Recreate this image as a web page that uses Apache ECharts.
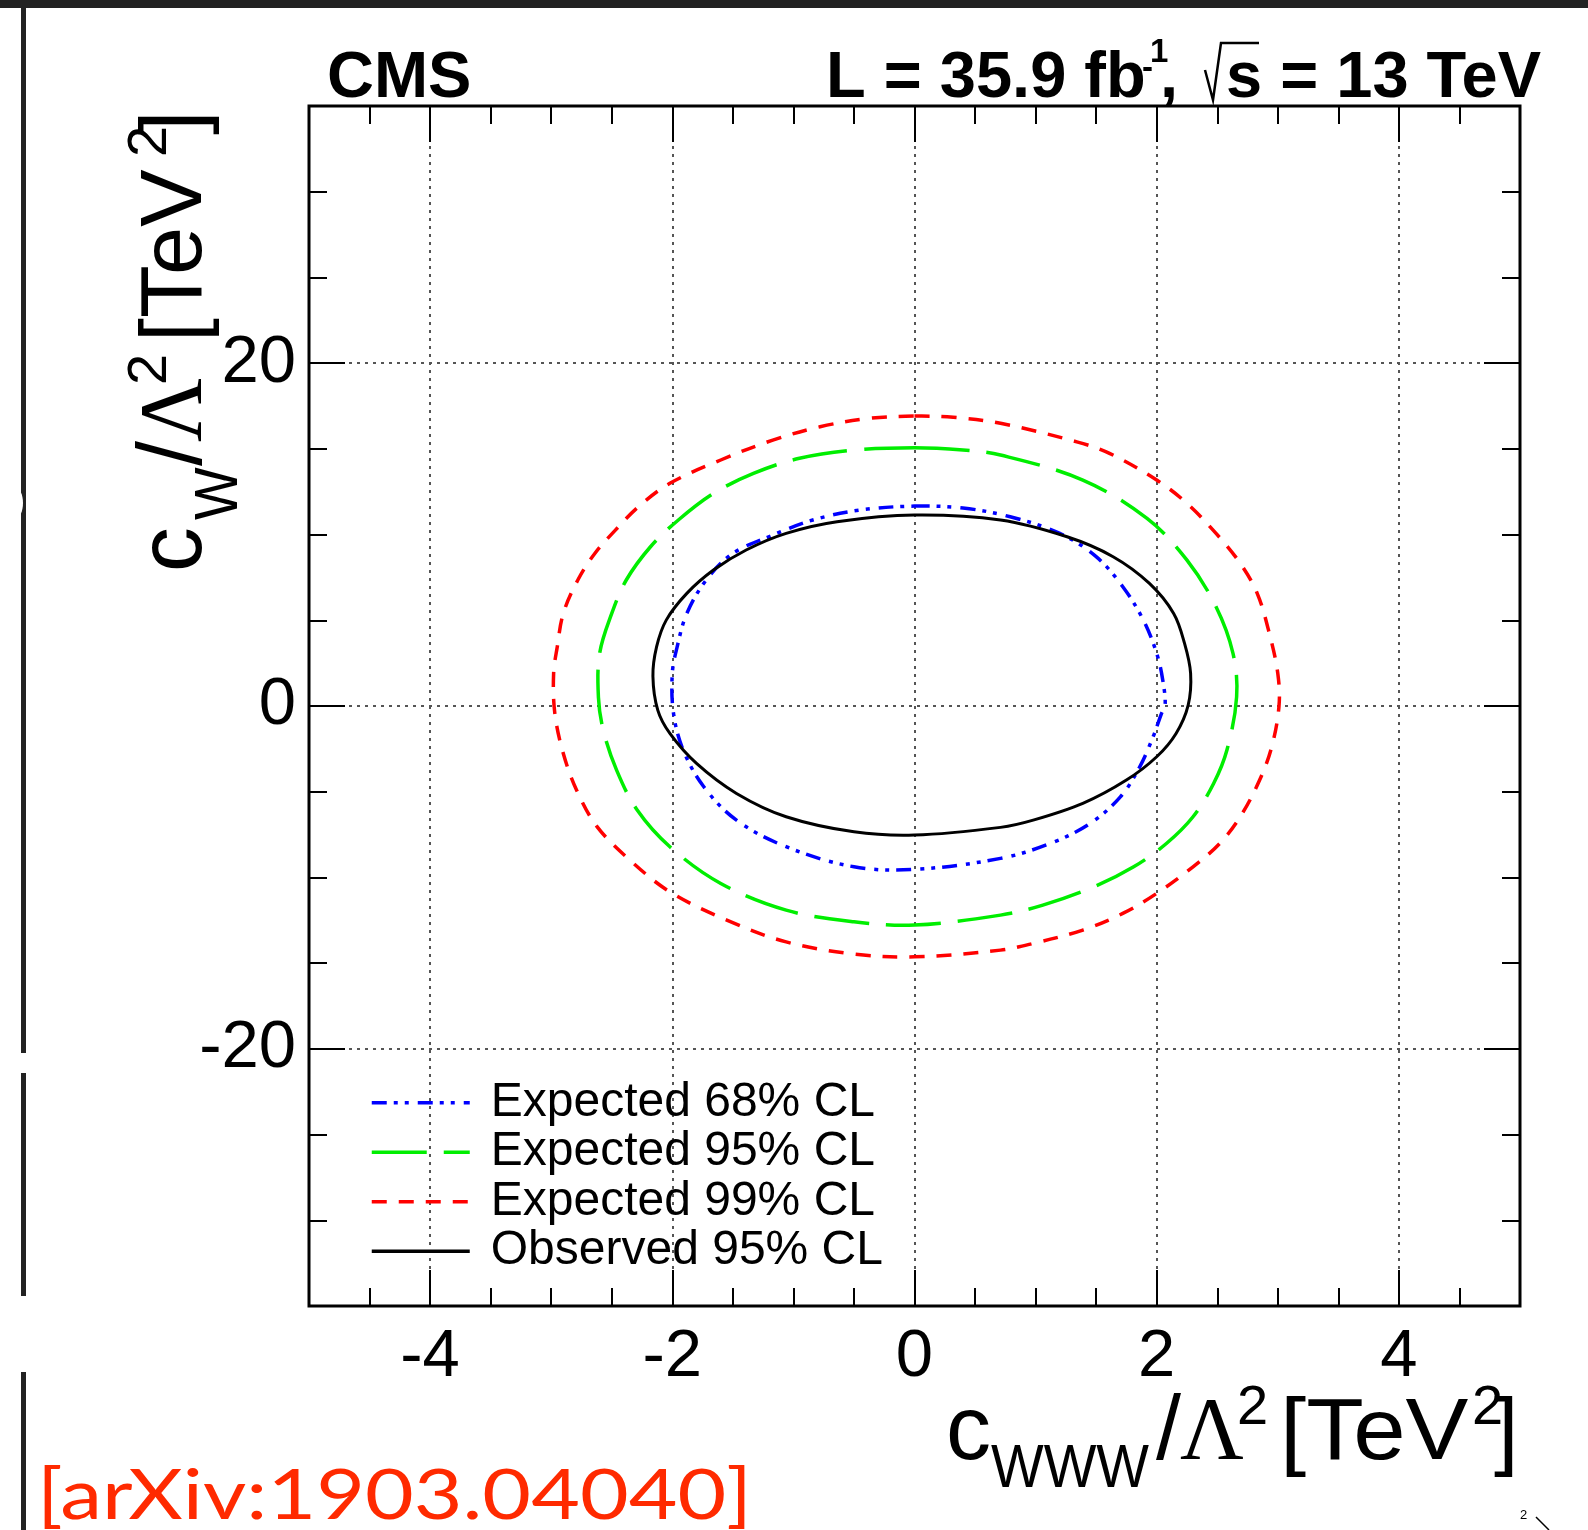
<!DOCTYPE html>
<html><head><meta charset="utf-8">
<script src="https://cdn.jsdelivr.net/npm/echarts@6/dist/echarts.min.js"></script>
<style>html,body{margin:0;padding:0;background:#fff;}#c{width:1588px;height:1530px;}</style>
</head><body><div id="c"></div>
<script>
// ---- data ----
const xTickValues = [-4, -2, 0, 2, 4];
const yTickValues = [-20, 0, 20];
const seriesNames = ['Expected 68% CL', 'Expected 95% CL', 'Expected 99% CL', 'Observed 95% CL'];

const exp68X = [0, 0.4, 0.79, 1.2, 1.5, 1.72, 1.89, 2.0, 2.05, 2.07, 2.04, 1.97, 1.86, 1.70, 1.45, 1.12, 0.71, 0, -0.5, -1.06, -1.47, -1.74, -1.91, -1.99, -2.0, -1.96, -1.88, -1.72, -1.5, -1.17, -0.84, -0.45, 0];
const exp68Y = [11.66, 11.55, 11.04, 10.07, 8.71, 6.96, 5.01, 3.07, 1.51, 0.05, -0.43, -1.8, -3.55, -5.3, -6.85, -8.02, -8.89, -9.53, -9.38, -8.21, -6.66, -4.71, -2.57, -0.43, 1.9, 3.45, 5.4, 7.35, 8.9, 9.97, 10.85, 11.43, 11.66];

const exp95X = [0, 0.40, 0.71, 1.39, 1.92, 2.25, 2.49, 2.63, 2.66, 2.58, 2.47, 2.30, 2.08, 1.81, 1.48, 1.06, 0.71, 0, -0.5, -1.06, -1.6, -2.02, -2.29, -2.46, -2.57, -2.61, -2.6, -2.5, -2.38, -2.18, -1.95, -1.66, -1.33, -0.95, -0.5, 0];
const exp95Y = [15.07, 14.93, 14.64, 13.18, 10.94, 8.51, 5.79, 3.07, 0.54, -2.57, -4.52, -6.46, -8.02, -9.38, -10.55, -11.62, -12.2, -12.78, -12.59, -11.91, -10.35, -8.21, -6.07, -3.74, -1.41, 0.5, 3.07, 5.4, 7.35, 9.29, 10.85, 12.4, 13.57, 14.45, 14.93, 15.07];

const exp99X = [0, 0.32, 0.71, 1.34, 1.61, 2.0, 2.25, 2.49, 2.69, 2.83, 2.93, 3.0, 3.01, 2.95, 2.85, 2.69, 2.52, 2.30, 2.0, 1.72, 1.39, 0.98, 0.71, 0, -0.5, -1.06, -1.55, -2.02, -2.35, -2.62, -2.79, -2.9, -2.97, -2.98, -2.95, -2.90, -2.78, -2.64, -2.47, -2.28, -2.02, -1.6, -1.17, -0.78, -0.37, 0];
const exp99Y = [16.91, 16.84, 16.49, 15.41, 14.74, 13.18, 11.82, 10.07, 8.32, 6.57, 4.24, 1.9, 0.0, -2.38, -4.32, -6.46, -8.02, -9.38, -10.93, -12.1, -13.07, -13.85, -14.24, -14.63, -14.47, -13.76, -12.49, -10.84, -8.99, -7.05, -4.91, -2.77, -0.43, 1.9, 3.45, 5.4, 7.35, 8.9, 10.26, 11.62, 12.99, 14.35, 15.51, 16.29, 16.78, 16.91];

const obs95X = [0, 0.71, 1.26, 1.64, 1.94, 2.14, 2.23, 2.28, 2.26, 2.16, 2.0, 1.75, 1.39, 0.98, 0.71, 0, -0.5, -1.06, -1.47, -1.8, -2.02, -2.12, -2.16, -2.13, -2.05, -1.88, -1.66, -1.39, -1.06, -0.64, 0];
const obs95Y = [11.14, 10.85, 9.87, 8.71, 7.15, 5.4, 3.65, 1.9, 0.05, -1.6, -2.96, -4.32, -5.68, -6.66, -7.08, -7.53, -7.34, -6.46, -5.1, -3.35, -1.6, -0.24, 1.74, 3.45, 5.01, 6.57, 7.93, 9.1, 10.07, 10.75, 11.14];

// ---- styling ----
const FONT = '"Liberation Sans", Arial, Helvetica, sans-serif';
const SERIF = '"Liberation Serif", "Times New Roman", serif';
const BASE = 0.285; // distance from 'middle' to alphabetic baseline, in em
const G = {left: 309, top: 106, width: 1211, height: 1200};

const STY = [
  {color: '#0000ff', dash: [15, 7, 4, 7, 4, 9], width: 3.5},
  {color: '#00ee00', dash: [55, 17], width: 3.5},
  {color: '#ff0000', dash: [15, 12], width: 3.5},
  {color: '#000000', dash: 'solid', width: 3}
];

function zip(xs, ys) { return xs.map((x, i) => [x, ys[i]]); }

function xAxisDef(pos, major) {
  const a = {
    type: 'value', position: pos, min: -5, max: 5, gridIndex: 0,
    axisLine: {show: false, onZero: false},
    axisTick: {show: true, inside: true, length: major ? 36 : 18, lineStyle: {color: '#000', width: 2}},
    axisLabel: {show: false},
    splitLine: {show: false},
    minorTick: {show: false}, minorSplitLine: {show: false}
  };
  if (major) {
    a.axisTick.customValues = xTickValues;
    if (pos === 'bottom') {
      a.axisLabel = {show: true, customValues: xTickValues, fontSize: 67, color: '#000', fontFamily: FONT, margin: 18};
      a.splitLine = {show: true, lineStyle: {color: '#555', width: 2, type: [3, 5]}};
    }
  } else {
    a.interval = 0.5;
  }
  return a;
}
function yAxisDef(pos, major) {
  const a = {
    type: 'value', position: pos, min: -35, max: 35, gridIndex: 0,
    axisLine: {show: false, onZero: false},
    axisTick: {show: true, inside: true, length: major ? 36 : 18, lineStyle: {color: '#000', width: 2}},
    axisLabel: {show: false},
    splitLine: {show: false},
    minorTick: {show: false}, minorSplitLine: {show: false}
  };
  if (major) {
    a.axisTick.customValues = yTickValues;
    if (pos === 'left') {
      a.axisLabel = {show: true, customValues: yTickValues, fontSize: 67, color: '#000', fontFamily: FONT, margin: 13, padding: [8, 0, 0, 0]};
      a.splitLine = {show: true, lineStyle: {color: '#555', width: 2, type: [3, 5]}};
    }
  } else {
    a.interval = 5;
  }
  return a;
}

// legend carriers (line series, no points) so the legend shows the dashed line samples
function legendSeries(i) {
  const s = STY[i];
  return {
    name: seriesNames[i], type: 'line', xAxisIndex: 0, yAxisIndex: 0, data: [],
    symbol: 'none', showSymbol: false,
    lineStyle: {color: s.color, width: s.width, type: s.dash}, itemStyle: {color: s.color},
    animation: false
  };
}
// closed contour drawn as a smooth closed curve through the data points (via the axes' scales)
function contourSeries(i, xs, ys, z) {
  const s = STY[i];
  return {
    name: seriesNames[i], type: 'custom', xAxisIndex: 0, yAxisIndex: 0, z: z,
    data: zip(xs, ys), encode: {x: 0, y: 1}, clip: true, animation: false, silent: true,
    renderItem: function (params, api) {
      if (params.dataIndexInside !== 0) return null;
      const n = params.dataInsideLength;
      const pts = [];
      for (let k = 0; k < n; k++) pts.push(api.coord([api.value(0, k), api.value(1, k)]));
      const a = pts[0], b = pts[pts.length - 1];
      if (Math.abs(a[0] - b[0]) < 0.01 && Math.abs(a[1] - b[1]) < 0.01) pts.pop();
      return {
        type: 'polygon', silent: true,
        shape: {points: pts, smooth: 0.35},
        style: {fill: 'none', stroke: s.color, lineWidth: s.width, lineDash: s.dash === 'solid' ? null : s.dash}
      };
    }
  };
}

// text helper: position by alphabetic baseline
function T(text, x, baseline, size, o) {
  o = o || {};
  const weight = o.bold ? 'bold ' : '';
  return {
    type: 'text', x: x, y: baseline - BASE * size, scaleX: o.sx || 1,
    style: {text, font: weight + size + 'px ' + (o.family || FONT), fill: o.color || '#000',
      align: o.align || 'left', verticalAlign: 'middle'}
  };
}
function measure(text, font) {
  const c = document.createElement('canvas').getContext('2d');
  c.font = font; return c.measureText(text).width;
}

// axis titles built from pieces (local coordinates, baseline at y=0)
function titleChildren(sub, subX, subDrop, slashPos, tevScale, tail) {
  return [
    T('c', 0, 0, 90),
    T(sub, subX, subDrop, 62, {sx: 0.9}),
    T('/', slashPos, 0, 90),
    T('\u039B', slashPos + 24, 0, 88, {family: SERIF}),
    T('2', slashPos + 81, -35, 56),
    T('[TeV', slashPos + 124, 0, 88, {sx: tevScale}),
    T('2', slashPos + 316 + tail, -35, 56),
    T(']', slashPos + 338 + tail, 0, 88)
  ];
}

const arxivText = '[arXiv:1903.04040]';
const arxivFont = '400 70px Lato, "Noto Sans", sans-serif';
const arxivScale = 715 / measure(arxivText, arxivFont);

const graphics = [
  {type: 'rect', shape: {x: 0, y: 0, width: 1588, height: 8}, style: {fill: '#222'}, z: 10},
  {type: 'rect', shape: {x: 21, y: 8, width: 5, height: 1045}, style: {fill: '#222'}},
  {type: 'rect', shape: {x: 21, y: 1073, width: 5, height: 223}, style: {fill: '#222'}},
  {type: 'rect', shape: {x: 21, y: 1372, width: 5, height: 158}, style: {fill: '#222'}},
  {type: 'ellipse', shape: {cx: 16, cy: 503, rx: 7, ry: 15}, style: {fill: '#fff'}, z: 5},
  T('CMS', 327, 98, 65, {bold: true}),
  T('L = 35.9 fb', 826, 98, 65, {bold: true}),
  T('-', 1142, 78, 33, {bold: true}),
  T('1', 1150, 62, 33, {bold: true}),
  T(',', 1160, 98, 65, {bold: true}),
  {type: 'polyline', shape: {points: [[1205, 70], [1213, 100], [1221, 43], [1259, 43]]}, style: {stroke: '#000', lineWidth: 2.5, fill: null}},
  T('s = 13 TeV', 1541, 98, 65, {bold: true, align: 'right'}),
  {type: 'group', x: 946, y: 1460, children: titleChildren('WWW', 45, 28, 210, 1.07, 0)},
  {type: 'group', x: 202, y: 572, rotation: Math.PI / 2, children: titleChildren('W', 52, 36, 106, 0.98, -7)},
  {type: 'text', x: 37, y: 1516 - BASE * 70, scaleX: arxivScale,
    style: {text: arxivText, font: arxivFont, fill: '#ff2a00', align: 'left', verticalAlign: 'middle'}},
  T('2', 1520, 1519, 13),
  {type: 'line', shape: {x1: 1536, y1: 1517, x2: 1549, y2: 1530}, style: {stroke: '#000', lineWidth: 1.5}}
];

const chart = echarts.init(document.getElementById('c'), null, {renderer: 'canvas', width: 1588, height: 1530});
chart.setOption({
  animation: false,
  backgroundColor: '#fff',
  grid: Object.assign({show: true, borderColor: '#000', borderWidth: 3, backgroundColor: 'transparent', containLabel: false, outerBoundsMode: 'none'}, G),
  xAxis: [xAxisDef('bottom', false), xAxisDef('bottom', true), xAxisDef('top', false), xAxisDef('top', true)],
  yAxis: [yAxisDef('left', false), yAxisDef('left', true), yAxisDef('right', false), yAxisDef('right', true)],
  legend: {
    orient: 'vertical', left: 370, top: 1078, padding: 0, itemGap: 0,
    itemWidth: 98, itemHeight: 14, selectedMode: false,
    data: seriesNames,
    itemStyle: {opacity: 0},
    lineStyle: {width: 3.5},
    textStyle: {fontSize: 48, fontFamily: FONT, color: '#000', lineHeight: 49.5, padding: [0, 0, 0, 16]}
  },
  series: [
    legendSeries(0), legendSeries(1), legendSeries(2), legendSeries(3),
    contourSeries(2, exp99X, exp99Y, 2),
    contourSeries(1, exp95X, exp95Y, 3),
    contourSeries(0, exp68X, exp68Y, 4),
    contourSeries(3, obs95X, obs95Y, 5)
  ],
  graphic: {elements: graphics}
});
</script>
</body></html>
